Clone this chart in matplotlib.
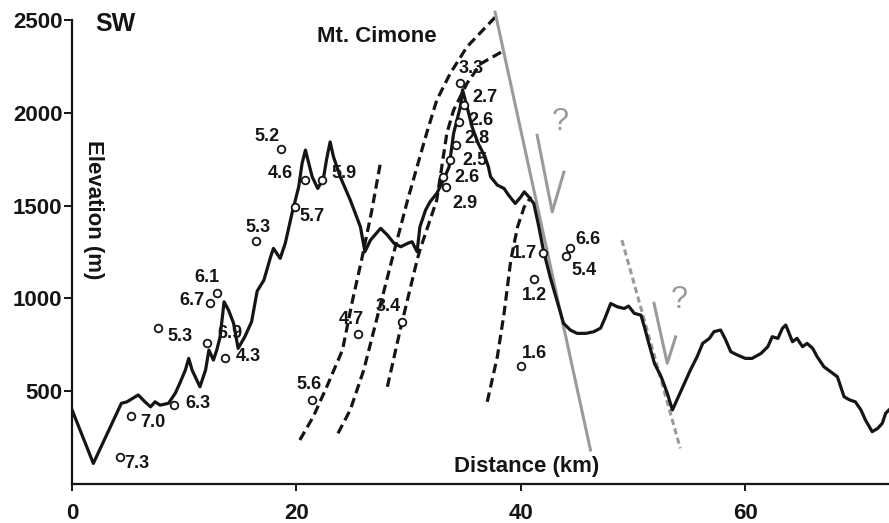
import numpy as np
import matplotlib.pyplot as plt

plt.rcParams.update({
    "font.family": ["Liberation Sans", "DejaVu Sans"],
    "font.weight": "bold",
})

# topographic profile (km, m)
dist = [0.0, 1.9, 4.4, 4.9, 5.9, 6.5, 7.0, 7.4, 7.85, 8.6, 9.2, 9.6, 10.1, 10.4,
        10.7, 11.4, 11.9, 12.2, 12.6, 12.9, 13.2, 13.35, 13.55, 13.95, 14.4, 14.8,
        15.4, 16.0, 16.5, 17.1, 17.7, 17.95, 18.55, 19.0, 19.6, 20.2, 20.5, 20.8,
        21.4, 21.9, 22.4, 22.7, 23.0, 23.3, 23.9, 24.8, 25.7, 26.1, 26.6, 27.5,
        28.1, 28.7, 29.3, 29.9, 30.3, 30.75, 31.0, 31.5, 31.9, 32.5, 33.1, 33.6,
        34.0, 34.6, 34.8, 35.2, 35.65, 36.2, 36.8, 37.1, 37.3, 37.9, 38.5, 38.9,
        39.5, 40.0, 40.3, 40.7, 41.15, 41.6, 42.0, 42.6, 43.2, 43.8, 44.4, 45.0,
        45.8, 46.5, 47.1, 47.5, 48.0, 48.6, 49.2, 49.6, 50.1, 50.7, 51.0, 51.4,
        51.9, 52.5, 53.05, 53.5, 53.9, 54.5, 55.1, 55.7, 56.2, 56.8, 57.2, 57.8,
        58.25, 58.7, 59.3, 60.0, 60.6, 61.4, 62.0, 62.4, 62.9, 63.3, 63.6, 63.9,
        64.2, 64.6, 65.1, 65.5, 66.0, 66.4, 67.0, 67.6, 68.2, 68.8, 69.3, 69.8,
        70.3, 70.7, 71.3, 71.8, 72.2, 72.5, 72.8]
elev = [400, 111, 435, 443, 480, 443, 416, 443, 425, 435, 489, 542, 614, 677,
        614, 524, 614, 722, 668, 722, 794, 874, 982, 937, 866, 731,
        794, 874, 1040, 1099, 1225, 1270, 1216, 1297, 1458, 1602, 1728, 1800,
        1656, 1593, 1647, 1755, 1844, 1764, 1656, 1530, 1386, 1252, 1315, 1378,
        1342, 1297, 1279, 1297, 1306, 1252, 1386, 1476, 1521, 1566, 1638, 1710,
        1889, 2033, 2125, 2033, 1925, 1835, 1764, 1710, 1656, 1611, 1593, 1557,
        1512, 1548, 1575, 1548, 1512, 1386, 1261, 1117, 991, 866, 830, 812,
        812, 821, 840, 895, 973, 955, 946, 959, 920, 910, 848, 758,
        650, 578, 488, 399, 453, 533, 614, 686, 758, 785, 821, 830,
        776, 713, 695, 677, 677, 704, 740, 794, 785, 839, 857, 812,
        767, 785, 740, 758, 731, 686, 632, 605, 578, 470, 453, 443,
        399, 345, 282, 300, 327, 381, 399]

# fold traces (dashed)
fold_a_x = [20.3, 21.5, 22.7, 24.1, 25.0, 25.8, 26.7, 27.5]
fold_a_y = [237, 363, 524, 722, 991, 1207, 1470, 1737]
fold_b_x = [23.7, 24.8, 26.0, 27.2, 28.5, 29.9, 31.6, 32.5, 33.7, 35.2, 37.7]
fold_b_y = [273, 400, 615, 900, 1207, 1530, 1891, 2069, 2213, 2357, 2516]
fold_c_x = [28.1, 29.3, 30.75, 31.0, 32.5, 33.4, 34.0, 35.2, 36.4, 38.3]
fold_c_y = [524, 845, 1207, 1261, 1530, 1890, 2015, 2160, 2265, 2330]
fold_d_x = [37.0, 37.9, 38.5, 39.1, 39.7, 40.3, 40.9]
fold_d_y = [443, 686, 920, 1207, 1386, 1494, 1548]

# faults (grey)
fault1_x = [37.7, 46.2]
fault1_y = [2543, 183]
fault2_x = [49.0, 54.2]
fault2_y = [1315, 192]

# sample points and their labels
samp_x = [4.28, 5.3, 7.7, 9.1, 12.3, 12.96, 12.0, 13.6, 16.4, 18.6, 19.9, 20.8,
          22.3, 21.4, 25.5, 29.4, 40.0, 41.2, 34.6, 34.9, 34.5, 34.2, 33.7, 33.1,
          33.3, 42.0, 44.4, 44.0]
samp_y = [147, 368, 839, 426, 974, 1031, 758, 677, 1311, 1808, 1491, 1638,
          1638, 453, 808, 875, 636, 1103, 2159, 2042, 1952, 1826, 1749, 1656,
          1602, 1246, 1270, 1228]
samp_lbl = ["7.3", "7.0", "5.3", "6.3", "6.7", "6.1", "6.9", "4.3", "5.3", "5.2",
            "5.7", "4.6", "5.9", "5.6", "4.7", "3.4", "1.6", "1.2", "3.3", "2.7",
            "2.6", "2.8", "2.5", "2.6", "2.9", "1.7", "6.6", "5.4"]
lbl_x = [5.8, 7.2, 9.6, 11.2, 10.7, 12.0, 14.1, 15.7, 16.6, 17.4,
         21.4, 18.6, 24.2, 21.1, 24.9, 28.2, 41.2, 41.2, 35.6, 36.8,
         36.4, 36.1, 35.9, 35.2, 35.05, 40.3, 46.0, 45.6]
lbl_y = [110, 330, 795, 435, 990, 1115, 810, 685, 1385, 1875,
         1440, 1675, 1675, 535, 885, 955, 705, 1015, 2240, 2085,
         1960, 1860, 1745, 1650, 1510, 1245, 1320, 1150]

grey = "#9a9a9a"
ink = "#151515"

fig = plt.figure(figsize=(8.89, 5.23), dpi=100)
ax = fig.add_axes([0.081, 0.0746, 0.919, 0.908])

for fx, fy in [(fold_a_x, fold_a_y), (fold_b_x, fold_b_y),
               (fold_c_x, fold_c_y), (fold_d_x, fold_d_y)]:
    ax.plot(fx, fy, color=ink, lw=2.3, ls=(0, (3, 1.6)), zorder=2, clip_on=False)

ax.plot(fault1_x, fault1_y, color=grey, lw=2.2, zorder=2, clip_on=False)
ax.plot(fault2_x, fault2_y, color=grey, lw=2.2, ls=(0, (2, 1.2)), zorder=2)

ax.plot(dist, elev, color=ink, lw=2.3, zorder=3, solid_joinstyle="round")

ax.plot(samp_x, samp_y, "o", ms=5.5, mfc="white", mec=ink, mew=1.3, zorder=4)
for tx, ty, s in zip(lbl_x, lbl_y, samp_lbl):
    ax.text(tx, ty, s, fontsize=13, color=ink, ha="center", va="center", zorder=5)

# slip arrows with question marks
ax.plot([41.45, 42.79, 43.83], [1880, 1467, 1681], color=grey, lw=2.2, zorder=2)
ax.plot([51.86, 53.04, 53.79], [974, 651, 793], color=grey, lw=2.2, zorder=2)
ax.text(43.5, 1954, "?", fontsize=22, color=grey, fontweight="normal",
        ha="center", va="center")
ax.text(54.1, 991, "?", fontsize=22, color=grey, fontweight="normal",
        ha="center", va="center")

ax.text(2.05, 2478, "SW", fontsize=18, color=ink, va="center")
ax.text(21.8, 2410, "Mt. Cimone", fontsize=16, color=ink, va="center")
ax.text(34.0, 92, "Distance (km)", fontsize=16, color=ink, va="center")
ax.text(1.9, 1480, "Elevation (m)", fontsize=16, color=ink, rotation=-90,
        ha="center", va="center")

ax.set_xlim(0, 72.8)
ax.set_ylim(0, 2560)
ax.set_xticks([0, 20, 40, 60])
ax.set_yticks([500, 1000, 1500, 2000, 2500])
ax.spines["left"].set_bounds(0, 2500)
ax.spines["top"].set_visible(False)
ax.spines["right"].set_visible(False)
for sp in ["left", "bottom"]:
    ax.spines[sp].set_linewidth(1.6)
    ax.spines[sp].set_color(ink)
ax.tick_params(axis="x", length=5, width=1.4, pad=9, labelsize=16, colors=ink)
ax.tick_params(axis="y", length=6, width=1.4, pad=1, labelsize=16, colors=ink)

plt.savefig("out.png", dpi=100)
